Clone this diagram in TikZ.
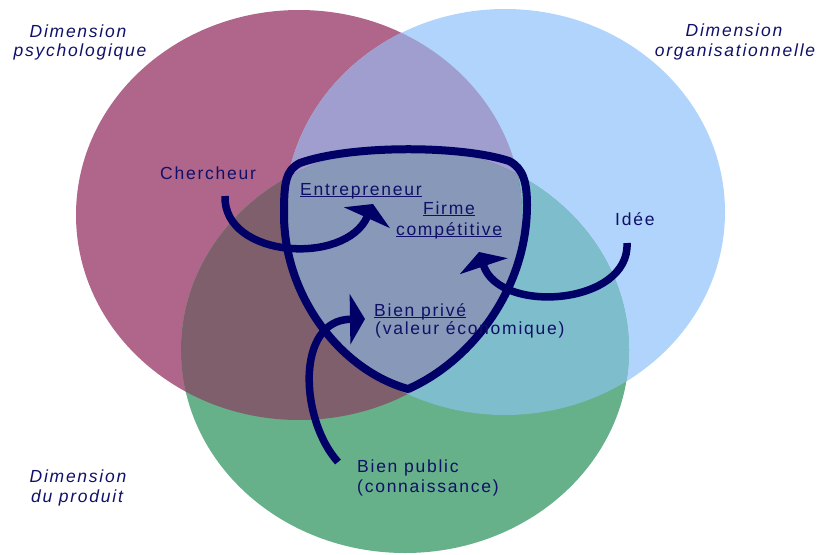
\documentclass[tikz,border=0pt]{standalone}
\usepackage{fontspec}
\newfontfamily\lab{Liberation Sans}[LetterSpace=10]
\usetikzlibrary{arrows.meta}
\definecolor{cMag}{RGB}{176,102,138}
\definecolor{cBlu}{RGB}{176,212,252}
\definecolor{cGre}{RGB}{102,176,138}
\definecolor{cMB}{RGB}{160,158,206}
\definecolor{cMG}{RGB}{127,95,107}
\definecolor{cBG}{RGB}{126,189,204}
\definecolor{cAll}{RGB}{136,152,184}
\definecolor{navy}{RGB}{0,0,102}
\definecolor{txt}{RGB}{16,16,104}
\newcommand\ulin[1]{\setbox0=\hbox{#1}\rlap{\rule[-2.4pt]{\wd0}{1pt}}\box0}
\begin{document}
\begin{tikzpicture}[x=1pt,y=-1pt,
  lbl/.style={font=\lab\fontsize{17.5}{20}\selectfont, text=txt, inner sep=0pt},
  dimlbl/.style={lbl, font=\lab\itshape\fontsize{17.5}{20}\selectfont, anchor=base},
  flow/.style={draw=navy, line width=7.5pt, -{Triangle[length=15pt,width=50pt]}}]
\useasboundingbox (0,0) rectangle (818,554);
\def\Mag{(299,215) ellipse [x radius=223pt, y radius=205pt]}
\def\Blu{(505,212) ellipse [x radius=220pt, y radius=203pt]}
\def\Gre{(405,350) ellipse [x radius=224pt, y radius=203pt]}
% circles
\fill[cMag] \Mag;
\fill[cBlu] \Blu;
\fill[cGre] \Gre;
\begin{scope}
  \clip \Blu;
  \fill[cBG] \Gre;
\end{scope}
\begin{scope}
  \clip \Mag;
  \fill[cMB] \Blu;
  \fill[cMG] \Gre;
  \clip \Blu;
  \fill[cAll] \Gre;
\end{scope}
% shield
\draw[navy, line width=8pt, line join=round]
  (408,389) .. controls (340,370) and (283,295) .. (284,212)
  .. controls (284,182) and (286,170) .. (300,163)
  .. controls (350,145) and (460,145) .. (509,161)
  .. controls (523,168) and (527,182) .. (527,205)
  .. controls (527,290) and (470,362) .. (408,389) -- cycle;
% dimension labels
\node[dimlbl] (psyA) at (78,37) {Dimension};
\node[dimlbl] (psyB) at (80,56) {psychologique};
\node[dimlbl] (orgA) at (734,36) {Dimension};
\node[dimlbl] (orgB) at (735,56) {organisationnelle};
\node[dimlbl] (proA) at (78,482) {Dimension};
\node[dimlbl] (proB) at (77,502) {du produit};
% inner labels
\node[lbl, anchor=base west] (cherch) at (160,179) {Chercheur};
\node[lbl, anchor=base west] (entr) at (300,195) {\ulin{Entrepreneur}};
\node[lbl, anchor=base] (firmA) at (449,214) {\ulin{Firme}};
\node[lbl, anchor=base] (firmB) at (449,235) {\ulin{compétitive}};
\node[lbl, anchor=base west] (prive) at (374,316) {\ulin{Bien privé}};
\node[lbl, anchor=base west] (priveB) at (375,334) {(valeur économique)};
\node[lbl, anchor=base west] (public) at (357,472) {Bien public};
\node[lbl, anchor=base west] (publicB) at (357,492) {(connaissance)};
\node[lbl, anchor=base west] (idee) at (615,225) {Idée};
% arrows
\coordinate (a1s) at (225,196);
\coordinate (a1e) at (373,204);
\coordinate (a2s) at (627,243);
\coordinate (a2e) at (479,252);
\coordinate (a3s) at (338,462);
\coordinate (a3e) at (365,319);
\draw[flow] (a1s) .. controls (223,258) and (345,266) .. (a1e);
\draw[flow] (a2s) .. controls (630,305) and (500,315) .. (a2e);
\draw[flow] (a3s) .. controls (300,420) and (295,320) .. (a3e);
\end{tikzpicture}
\end{document}
